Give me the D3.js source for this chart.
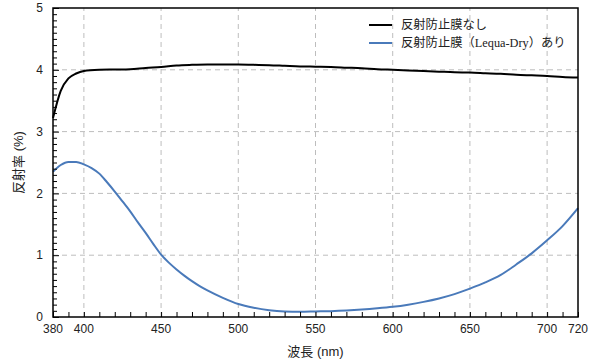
<!DOCTYPE html>
<html><head><meta charset="utf-8">
<script src="https://cdn.jsdelivr.net/npm/d3@7"></script>
<style>
html,body{margin:0;padding:0;background:#fff;}
svg{display:block;}
</style></head>
<body><svg id="chart" width="601" height="360"></svg>
<script>
const seriesNames = ["反射防止膜なし", "反射防止膜（Lequa-Dry）あり"];
const seriesColors = ["#000000", "#4a7aba"];
const xTicks = [380, 400, 450, 500, 550, 600, 650, 700, 720];
const yTicks = [0, 1, 2, 3, 4, 5];
const xTitle = "波長 (nm)";
const yTitle = "反射率 (%)";

const wlNoAR = [380,385,390,395,400,410,420,430,440,450,460,470,480,490,500,510,520,530,540,550,560,570,580,590,600,610,620,630,640,650,660,670,680,690,700,710,720];
const noAR = [3.22,3.66,3.86,3.94,3.98,4.00,4.005,4.01,4.03,4.045,4.07,4.08,4.085,4.085,4.085,4.08,4.075,4.065,4.055,4.05,4.045,4.035,4.025,4.01,4.00,3.99,3.98,3.97,3.96,3.955,3.945,3.935,3.92,3.91,3.90,3.885,3.875];

const wlAR = [380,385,390,395,400,405,410,415,420,425,430,435,440,445,450,455,460,465,470,475,480,490,500,510,520,530,540,550,560,570,580,590,600,610,620,630,640,650,660,670,680,690,700,710,720];
const withAR = [2.35,2.46,2.51,2.51,2.47,2.41,2.32,2.18,2.03,1.87,1.71,1.53,1.36,1.18,1.01,0.88,0.77,0.67,0.58,0.50,0.43,0.31,0.21,0.15,0.11,0.09,0.085,0.09,0.095,0.105,0.12,0.14,0.165,0.20,0.245,0.30,0.37,0.46,0.56,0.68,0.85,1.03,1.24,1.47,1.76];

const W = 601, H = 360;
const m = {left: 53, right: 23, top: 8, bottom: 43};
const svg = d3.select("#chart");
const x = d3.scaleLinear().domain([380, 720]).range([m.left, W - m.right]);
const y = d3.scaleLinear().domain([0, 5]).range([H - m.bottom, m.top]);
const latin = "Arial, 'Liberation Sans', 'Noto Sans CJK JP', sans-serif";

// grid
svg.append("g").selectAll("line").data([400,450,500,550,600,650,700]).join("line")
  .attr("x1", d => x(d)).attr("x2", d => x(d)).attr("y1", y(0)).attr("y2", y(5))
  .attr("stroke", "#bdbdbd").attr("stroke-width", 1).attr("stroke-dasharray", "5,4");
svg.append("g").selectAll("line").data([1,2,3,4]).join("line")
  .attr("y1", d => y(d)).attr("y2", d => y(d)).attr("x1", x(380)).attr("x2", x(720))
  .attr("stroke", "#bdbdbd").attr("stroke-width", 1).attr("stroke-dasharray", "5,4");

// lines
const makeLine = (xs) => d3.line().x((d, i) => x(xs[i])).y(d => y(d)).curve(d3.curveMonotoneX);
svg.append("path").datum(withAR).attr("d", makeLine(wlAR))
  .attr("fill", "none").attr("stroke", seriesColors[1]).attr("stroke-width", 2);
svg.append("path").datum(noAR).attr("d", makeLine(wlNoAR))
  .attr("fill", "none").attr("stroke", seriesColors[0]).attr("stroke-width", 2);

// axes (inward ticks)
const xAxis = d3.axisBottom(x).tickValues(d3.range(380, 721, 10)).tickSize(-5).tickFormat("");
const gx = svg.append("g").attr("transform", `translate(0,${y(0)})`).call(xAxis);
gx.select(".domain").remove();
gx.selectAll("line").attr("stroke", "#000").attr("stroke-width", 1);

const yAxis = d3.axisLeft(y).tickValues(d3.range(0, 51).map(v => v / 10)).tickSize(-4).tickFormat("");
const gy = svg.append("g").attr("transform", `translate(${x(380)},0)`).call(yAxis);
gy.select(".domain").remove();
gy.selectAll(".tick line").attr("stroke", "#000").attr("stroke-width", 1)
  .attr("x2", d => (Math.abs(d - Math.round(d)) < 1e-9) ? 6 : 4);

// frame
svg.append("rect").attr("x", x(380)).attr("y", y(5)).attr("width", x(720) - x(380)).attr("height", y(0) - y(5))
  .attr("fill", "none").attr("stroke", "#000").attr("stroke-width", 1.5);

// tick labels
svg.append("g").selectAll("text").data(xTicks).join("text")
  .attr("x", d => x(d)).attr("y", y(0) + 16).attr("text-anchor", "middle")
  .attr("font-family", latin).attr("font-size", 12).attr("fill", "#222").text(d => d);
svg.append("g").selectAll("text").data(yTicks).join("text")
  .attr("x", x(380) - 10).attr("y", d => y(d)).attr("dy", "0.35em").attr("text-anchor", "end")
  .attr("font-family", latin).attr("font-size", 12).attr("fill", "#222").text(d => d);

// titles
svg.append("text").attr("x", (x(380) + x(720)) / 2).attr("y", 356).attr("text-anchor", "middle")
  .attr("font-family", latin).attr("font-size", 13).attr("fill", "#222").text(xTitle);
svg.append("text").attr("transform", `translate(23,${(y(0) + y(5)) / 2}) rotate(-90)`).attr("text-anchor", "middle")
  .attr("font-family", latin).attr("font-size", 13).attr("fill", "#222").text(yTitle);

// legend
const lg = svg.append("g");
seriesNames.forEach((name, i) => {
  const ly = 25 + i * 18;
  lg.append("line").attr("x1", 369).attr("x2", 392).attr("y1", ly).attr("y2", ly)
    .attr("stroke", seriesColors[i]).attr("stroke-width", 2);
  lg.append("text").attr("x", 401).attr("y", ly).attr("dy", "0.35em")
    .attr("font-family", "'Liberation Serif', 'Times New Roman', 'Noto Sans CJK JP', serif")
    .attr("font-size", 12.3).attr("fill", "#222").text(name);
});
</script>
</body></html>
